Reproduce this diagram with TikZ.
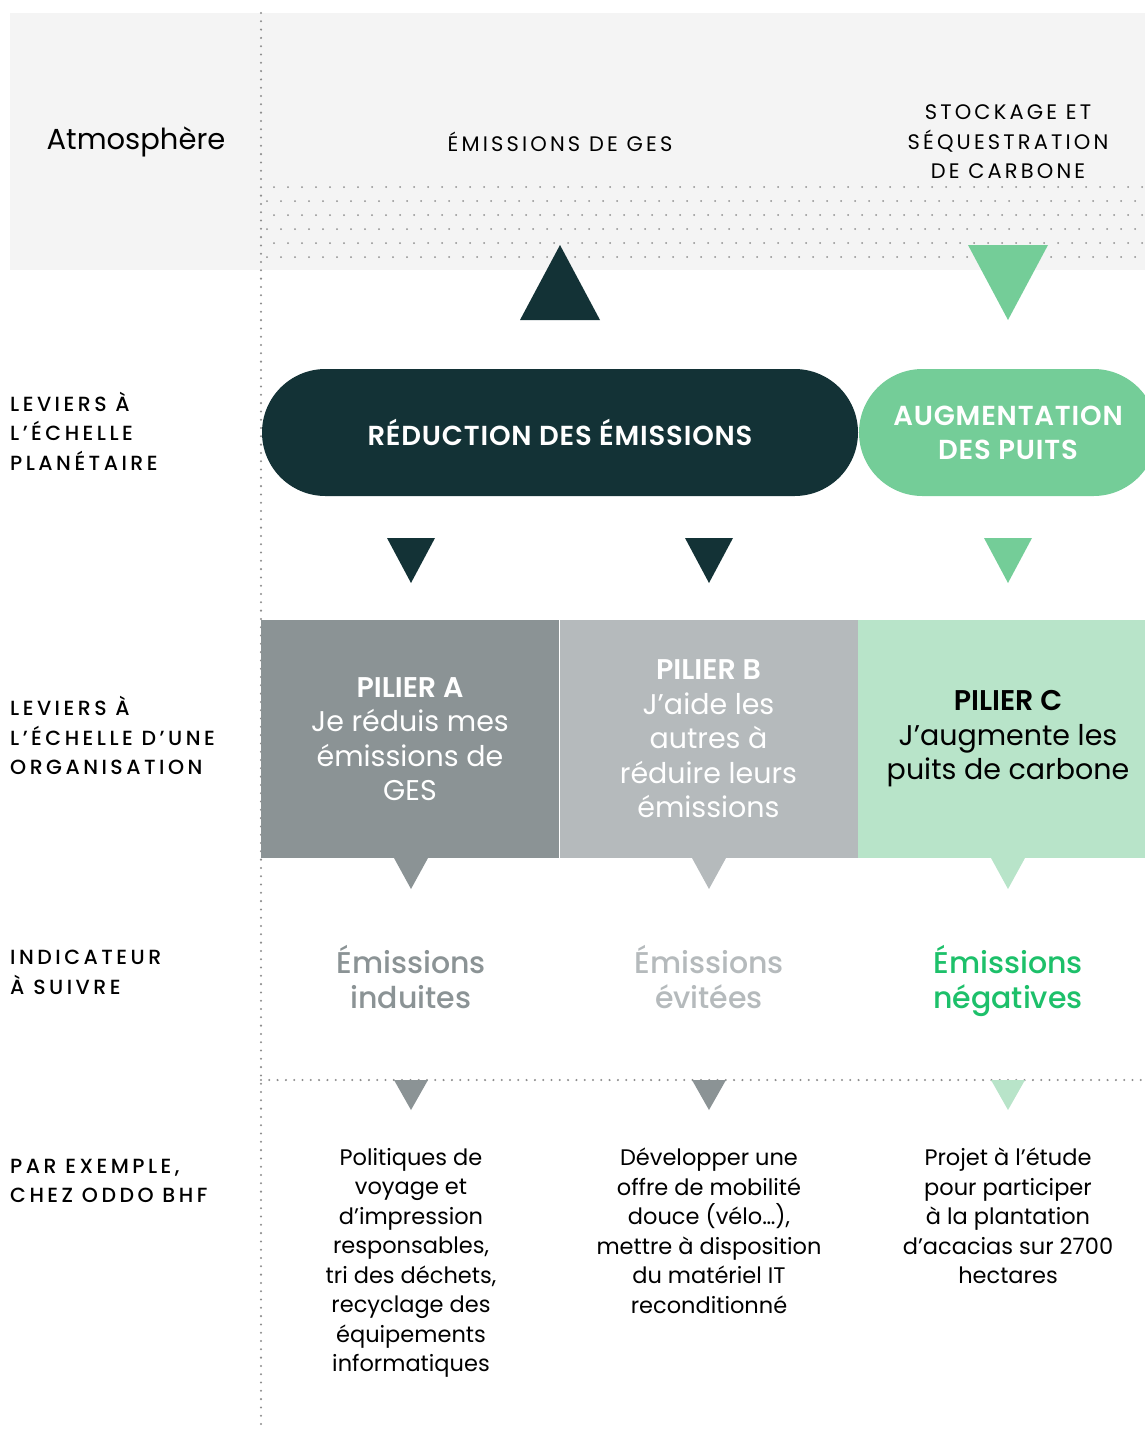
\documentclass[tikz,border=0pt]{standalone}
\usepackage{fontspec}
\setmainfont{Poppins}
\newfontfamily\labfont[LetterSpace=17]{Poppins Medium}
\newfontfamily\capsfont[LetterSpace=15]{Poppins}
\newfontfamily\pillfont[LetterSpace=3]{Poppins SemiBold}
\newfontfamily\semifont{Poppins SemiBold}
\newfontfamily\medfont{Poppins Medium}
\usetikzlibrary{positioning,shapes.misc}

\definecolor{teal}{HTML}{133236}
\definecolor{leaf}{HTML}{74CD98}
\definecolor{paleleaf}{HTML}{B8E4C9}
\definecolor{greyA}{HTML}{8B9395}
\definecolor{greyB}{HTML}{B5BABC}
\definecolor{brightleaf}{HTML}{1DC06A}
\definecolor{band}{HTML}{F4F4F4}
\definecolor{dotgrey}{HTML}{8E8E8E}

% cx, ytop, half width, height, colour
\newcommand\downtri[5]{\fill[#5] ({#1-#3},#2) -- ({#1+#3},#2) -- (#1,{#2+#4}) -- cycle;}

\begin{document}
\begin{tikzpicture}[x=1pt, y=-1pt,
  lab/.style={anchor=north west, align=left, inner sep=0pt, font=\labfont\fontsize{20.5}{29.5}\selectfont},
  head/.style={align=center, inner sep=0pt, font=\capsfont\fontsize{21}{29.5}\selectfont},
  pill/.style={rounded rectangle, minimum height=127pt, inner sep=0pt, text=white, align=center, font=\pillfont\fontsize{27.5}{34}\selectfont},
  pilier/.style={rectangle, minimum width=298pt, minimum height=238pt, inner sep=0pt, align=center, font=\fontsize{28.5}{34.5}\selectfont},
  indic/.style={anchor=north, align=center, inner sep=0pt, font=\medfont\fontsize{30}{35}\selectfont},
  ex/.style={anchor=north, align=center, inner sep=0pt, font=\fontsize{22.5}{29.5}\selectfont},
  dots/.style={dotgrey, line width=2.3pt, line cap=round, dash pattern=on 0pt off 8.3pt}]
\useasboundingbox (0,0) rectangle (1145,1430);
% atmosphere band
\fill[band] (10,13) rectangle (1145,270);
\foreach \r in {0,...,5}
  \foreach \c in {0,...,63}
    \fill[dotgrey] ({267+7*mod(\r+1,2)+14*\c},{187+14*\r}) circle (1pt);
\draw[dots] (261,13) -- (261,1430);
\draw[dots] (261,1080) -- (1145,1080);

% nodes
\node (atmo) at (136,142) {\fontsize{29}{34}\selectfont Atmosphère};
\node[head] (ges) at (560,142) {ÉMISSIONS DE GES};
\node[head] (stock) at (1008,142) {STOCKAGE ET\\SÉQUESTRATION\\DE CARBONE};

\node[lab] (lplan) at (10,392) {LEVIERS À\\L’ÉCHELLE\\PLANÉTAIRE};
\node[lab] (lorga) at (10,696) {LEVIERS À\\L’ÉCHELLE D’UNE\\ORGANISATION};
\node[lab] (lindic) at (10,950) {INDICATEUR\\À SUIVRE};
\node[lab] (lex) at (10,1159) {PAR EXEMPLE,\\CHEZ ODDO BHF};

\node[pill, fill=teal, minimum width=596pt] (reduc) at (560,432.5) {RÉDUCTION DES ÉMISSIONS};
\node[pilier, fill=greyA, text=white] (pilA) at (410,739) {{\semifont PILIER A}\\Je réduis mes\\émissions de\\GES};
\node[pilier, fill=greyB, text=white] (pilB) at (708.5,739) {{\semifont PILIER B}\\J’aide les\\autres à\\réduire leurs\\émissions};
\begin{scope}
  \clip (0,0) rectangle (1145,1430);
  \node[pill, fill=leaf, minimum width=298pt] (puits) at (1008,432.5) {AUGMENTATION\\DES PUITS};
  \node[pilier, fill=paleleaf, text=black, minimum width=300pt] (pilC) at (1008,739) {{\semifont PILIER C}\\J’augmente les\\puits de carbone};
\end{scope}

\node[indic, text=greyA] (induites) at (411,945) {Émissions\\induites};
\node[indic, text=greyB] (evitees) at (709,945) {Émissions\\évitées};
\node[indic, text=brightleaf] (negatives) at (1008,945) {Émissions\\négatives};

\node[ex] (exA) at (411,1148) {Politiques de\\voyage et\\d’impression\\responsables,\\tri des déchets,\\recyclage des\\équipements\\informatiques};
\node[ex] (exB) at (709,1148) {Développer une\\offre de mobilité\\douce (vélo…),\\mettre à disposition\\du matériel IT\\reconditionné};
\node[ex] (exC) at (1008,1148) {Projet à l’étude\\pour participer\\à la plantation\\d’acacias sur 2700\\hectares};

% arrows
\fill[teal] (520,320) -- (600,320) -- (560,245) -- cycle;
\downtri{1008}{245}{40}{75}{leaf}
\downtri{411}{538}{24}{45}{teal}
\downtri{709}{538}{24}{45}{teal}
\downtri{1008}{538}{24}{45}{leaf}
\downtri{411}{858}{17}{31}{greyA}
\downtri{709}{858}{17}{31}{greyB}
\downtri{1008}{858}{17}{31}{paleleaf}
\downtri{411}{1080}{17}{30}{greyA}
\downtri{709}{1080}{17}{30}{greyA}
\downtri{1008}{1080}{17}{30}{paleleaf}
\end{tikzpicture}
\end{document}
